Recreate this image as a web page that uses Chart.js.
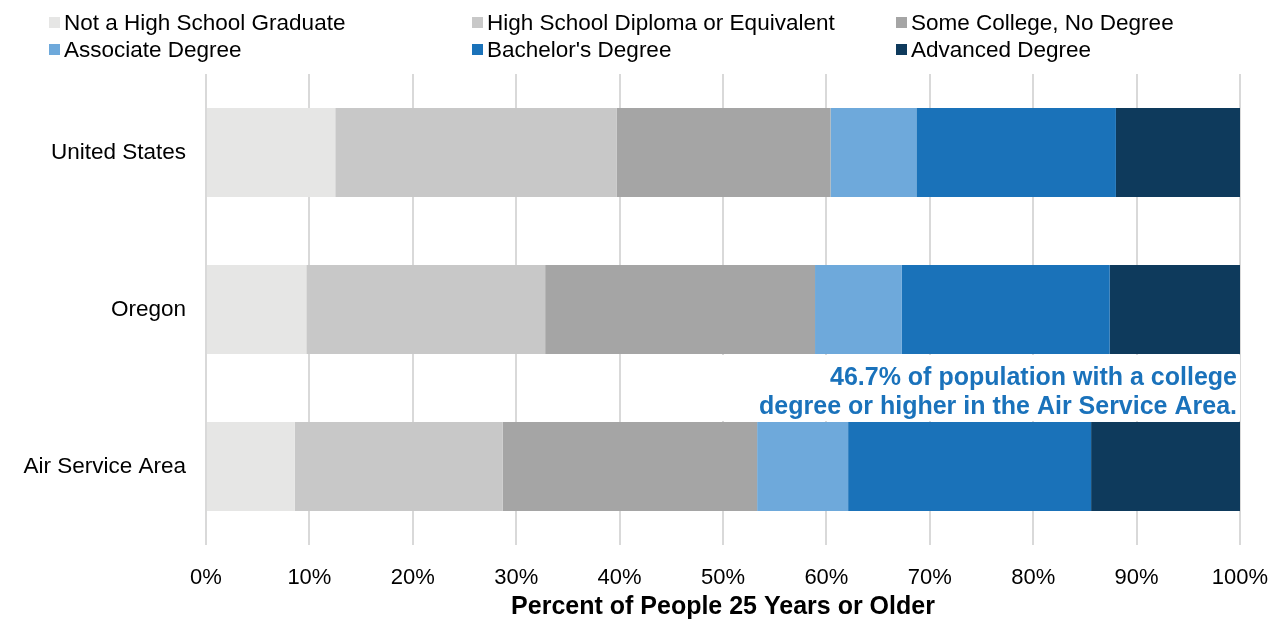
<!DOCTYPE html>
<html>
<head>
<meta charset="utf-8">
<script src="https://cdn.jsdelivr.net/npm/chart.js@4"></script>
<style>
  html, body { margin: 0; padding: 0; background: #fff; }
  #wrap { position: relative; width: 1279px; height: 620px; }
  #legend {
    position: absolute; left: 49px; top: 9px;
    display: grid; grid-template-columns: 423px 424px 300px;
    row-gap: 0; font-family: "Liberation Sans", Arial, sans-serif;
    font-size: 22.5px; color: #000; line-height: 27px;
  }
  #legend .item { display: flex; align-items: center; white-space: nowrap; }
  #legend .box { width: 11px; height: 11px; margin-right: 4px; flex: none; }
</style>
</head>
<body>
<div id="wrap">
  <canvas id="eduChart" width="1279" height="620"></canvas>
  <div id="legend"></div>
</div>
<script>
// Educational attainment, share of people 25 years or older (%)
const regions = ['United States', 'Oregon', 'Air Service Area'];
const levels = [
  'Not a High School Graduate',
  'High School Diploma or Equivalent',
  'Some College, No Degree',
  'Associate Degree',
  "Bachelor's Degree",
  'Advanced Degree'
];
const notHighSchool = [12.5, 9.7, 8.6];
const highSchool = [27.2, 23.1, 20.1];
const someCollege = [20.7, 26.1, 24.6];
const associate = [8.3, 8.4, 8.8];
const bachelors = [19.3, 20.1, 23.5];
const advanced = [12.0, 12.6, 14.4];
const xTicks = [0, 10, 20, 30, 40, 50, 60, 70, 80, 90, 100];
const colors = ['#e6e6e5', '#c8c8c8', '#a5a5a5', '#6ea9db', '#1a72b9', '#0e3a5c'];

const collegeShare = (associate[2] + bachelors[2] + advanced[2]).toFixed(1);
const noteLines = [
  collegeShare + '% of population with a college',
  'degree or higher in the Air Service Area.'
];

const font = '"Liberation Sans", Arial, sans-serif';

// legend in two rows of three
const legendEl = document.getElementById('legend');
levels.forEach(function (name, i) {
  const item = document.createElement('div');
  item.className = 'item';
  const box = document.createElement('span');
  box.className = 'box';
  box.style.background = colors[i];
  item.appendChild(box);
  item.appendChild(document.createTextNode(name));
  legendEl.appendChild(item);
});

// white callout between Oregon and the Air Service Area bar
const notePlugin = {
  id: 'note',
  afterDatasetsDraw: function (chart) {
    const ctx = chart.ctx;
    const x = chart.scales.x;
    const upper = chart.getDatasetMeta(0).data[1];
    const lower = chart.getDatasetMeta(0).data[2];
    const top = upper.y + upper.height / 2 + 1;
    const bottom = lower.y - lower.height / 2 - 1;
    const left = x.getPixelForValue(49.5);
    const right = x.getPixelForValue(100);
    ctx.save();
    ctx.fillStyle = '#ffffff';
    ctx.fillRect(left, top, right - left, bottom - top);
    ctx.fillStyle = '#1a72bb';
    ctx.font = 'bold 25px ' + font;
    ctx.textAlign = 'right';
    ctx.textBaseline = 'middle';
    ctx.fillText(noteLines[0], right - 3, top + 23);
    ctx.fillText(noteLines[1], right - 3, top + 52);
    ctx.restore();
  }
};

const series = [notHighSchool, highSchool, someCollege, associate, bachelors, advanced];

const ctx = document.getElementById('eduChart').getContext('2d');
const eduChart = new Chart(ctx, {
  type: 'bar',
  data: {
    labels: regions,
    datasets: series.map(function (values, i) {
      return {
        label: levels[i],
        data: values,
        backgroundColor: colors[i],
        borderWidth: 0,
        categoryPercentage: 1,
        barPercentage: 0.567
      };
    })
  },
  options: {
    indexAxis: 'y',
    responsive: false,
    animation: false,
    layout: { padding: { top: 74, right: 39, left: 0, bottom: 0 } },
    plugins: {
      legend: { display: false },
      tooltip: { enabled: false }
    },
    scales: {
      x: {
        stacked: true,
        min: 0,
        max: 100,
        afterBuildTicks: function (scale) {
          scale.ticks = xTicks.map(function (v) { return { value: v }; });
        },
        afterFit: function (scale) {
          scale.height = 75;
          scale.paddingLeft = 0;
          scale.paddingRight = 0;
        },
        grid: { color: '#d9d9d9', lineWidth: 2, drawTicks: false },
        border: { display: false },
        ticks: {
          padding: 21,
          color: '#000',
          font: { family: font, size: 22, lineHeight: 1.1 },
          callback: function (v) { return v + '%'; }
        },
        title: {
          display: true,
          text: 'Percent of People 25 Years or Older',
          color: '#000',
          font: { family: font, size: 25, weight: 'bold', lineHeight: 1.0 },
          padding: { top: 5, bottom: 0 }
        }
      },
      y: {
        stacked: true,
        grid: { display: false, drawTicks: false },
        border: { display: false },
        ticks: {
          padding: 20,
          color: '#000',
          font: { family: font, size: 22.5 }
        },
        afterFit: function (scale) {
          scale.width = 206;
          scale.paddingTop = 0;
          scale.paddingBottom = 0;
        }
      }
    }
  },
  plugins: [notePlugin]
});
</script>
</body>
</html>
